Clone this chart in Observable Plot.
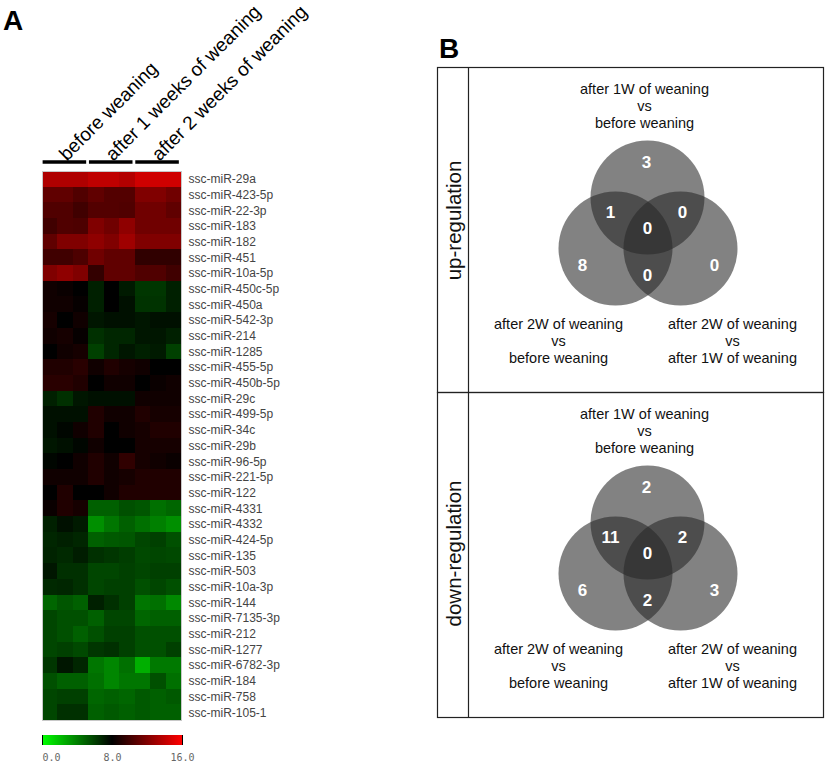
<!DOCTYPE html>
<html>
<head>
<meta charset="utf-8">
<script src="https://cdn.jsdelivr.net/npm/d3@7"></script>
<script src="https://cdn.jsdelivr.net/npm/@observablehq/plot@0.6"></script>
<style>
  html, body { margin: 0; padding: 0; background: #fff; }
  #root { position: relative; width: 827px; height: 768px; overflow: hidden; font-family: "Liberation Sans", Arial, sans-serif; }
  .abs { position: absolute; }
  .letter { font: bold 28px "Liberation Sans", Arial, sans-serif; line-height: 1; color: #000; }
  #legend text { font-family: "DejaVu Sans Mono", monospace; font-size: 10px; fill: #666; }
</style>
</head>
<body>
<div id="root">
  <div class="abs letter" style="left:3px; top:7px;">A</div>
  <div class="abs letter" style="left:439px; top:35px;">B</div>
  <div class="abs" id="heat" style="left:0; top:0;"></div>
  <div class="abs" id="legend" style="left:32px; top:733px;"></div>
  <div class="abs" id="vennUp" style="left:436px; top:66px;"></div>
  <div class="abs" id="vennDown" style="left:436px; top:391px;"></div>
</div>
<script>
// ---------------- Heatmap data ----------------
const groups = ["before weaning", "after 1 weeks of weaning", "after 2 weeks of weaning"];
const samplesPerGroup = 3;
const mirnas = [
  "ssc-miR-29a", "ssc-miR-423-5p", "ssc-miR-22-3p", "ssc-miR-183", "ssc-miR-182",
  "ssc-miR-451", "ssc-miR-10a-5p", "ssc-miR-450c-5p", "ssc-miR-450a", "ssc-miR-542-3p",
  "ssc-miR-214", "ssc-miR-1285", "ssc-miR-455-5p", "ssc-miR-450b-5p", "ssc-miR-29c",
  "ssc-miR-499-5p", "ssc-miR-34c", "ssc-miR-29b", "ssc-miR-96-5p", "ssc-miR-221-5p",
  "ssc-miR-122", "ssc-miR-4331", "ssc-miR-4332", "ssc-miR-424-5p", "ssc-miR-135",
  "ssc-miR-503", "ssc-miR-10a-3p", "ssc-miR-144", "ssc-miR-7135-3p", "ssc-miR-212",
  "ssc-miR-1277", "ssc-miR-6782-3p", "ssc-miR-184", "ssc-miR-758", "ssc-miR-105-1"
];
// log2 expression, 9 samples per miRNA (3 before, 3 after 1W, 3 after 2W)
const expression = [
  [13.5, 13.5, 13.5, 14.0, 14.0, 13.6, 14.5, 14.5, 14.5],
  [11.0, 11.0, 10.5, 11.0, 10.6, 10.6, 12.0, 12.0, 11.5],
  [10.5, 10.5, 10.0, 10.6, 10.6, 10.5, 11.5, 11.5, 11.0],
  [10.0, 10.5, 10.4, 12.0, 11.5, 12.5, 11.5, 11.5, 11.5],
  [11.0, 12.0, 12.0, 12.5, 12.0, 13.0, 12.0, 12.0, 12.0],
  [10.0, 10.0, 10.4, 11.5, 11.0, 11.0, 9.5, 9.5, 9.5],
  [12.0, 12.5, 12.0, 9.6, 11.0, 11.0, 10.5, 10.5, 10.0],
  [8.5, 8.3, 8.0, 7.0, 8.0, 7.2, 6.3, 6.3, 7.0],
  [8.5, 8.5, 8.2, 7.0, 8.0, 7.5, 6.4, 6.4, 7.0],
  [8.7, 8.0, 8.5, 7.3, 7.5, 7.5, 7.3, 7.5, 7.5],
  [8.5, 8.7, 8.2, 6.5, 6.8, 6.8, 7.3, 7.3, 7.0],
  [8.0, 8.5, 8.7, 6.0, 6.8, 7.3, 7.0, 7.2, 6.0],
  [9.0, 9.0, 9.3, 8.5, 9.0, 8.7, 8.5, 8.0, 8.0],
  [9.3, 9.3, 9.0, 8.0, 8.5, 8.5, 8.0, 8.3, 8.5],
  [7.0, 6.5, 7.3, 7.5, 7.5, 7.5, 8.5, 8.5, 8.5],
  [7.5, 7.5, 7.5, 9.0, 8.5, 8.5, 9.0, 8.7, 8.7],
  [7.5, 7.8, 8.5, 9.0, 8.0, 8.5, 8.7, 9.0, 9.0],
  [7.3, 7.5, 7.8, 8.5, 8.0, 8.0, 8.7, 8.7, 8.7],
  [7.8, 8.0, 8.5, 9.0, 8.5, 9.5, 8.7, 8.5, 8.3],
  [8.5, 8.5, 8.5, 9.0, 8.5, 8.7, 9.0, 9.0, 9.0],
  [8.0, 9.0, 8.0, 8.0, 8.5, 9.0, 9.0, 9.0, 9.0],
  [8.3, 9.0, 8.7, 5.0, 5.0, 5.5, 5.3, 4.5, 4.8],
  [7.0, 7.5, 7.2, 3.5, 4.3, 5.0, 4.5, 4.0, 3.5],
  [6.8, 7.0, 6.8, 5.0, 5.2, 5.3, 5.8, 6.0, 5.5],
  [6.9, 6.7, 7.1, 6.5, 6.3, 6.1, 5.7, 5.8, 5.7],
  [7.3, 6.5, 6.5, 5.8, 5.8, 6.0, 5.8, 6.0, 6.0],
  [6.7, 6.8, 6.5, 5.8, 6.0, 6.0, 5.5, 5.8, 5.5],
  [4.8, 5.3, 5.0, 7.0, 6.5, 6.0, 4.3, 4.5, 3.7],
  [5.8, 5.5, 5.5, 5.0, 5.8, 5.8, 4.8, 5.0, 5.0],
  [5.8, 5.5, 5.0, 5.5, 6.0, 6.0, 5.5, 5.5, 5.5],
  [5.8, 6.0, 5.7, 6.3, 6.5, 6.0, 5.5, 5.5, 6.0],
  [6.3, 7.3, 6.8, 4.3, 3.8, 4.5, 2.5, 4.2, 4.2],
  [5.5, 5.0, 5.0, 4.5, 3.8, 4.3, 4.3, 5.5, 4.5],
  [5.8, 6.0, 6.0, 4.8, 5.0, 4.8, 5.2, 5.0, 5.2],
  [5.8, 6.5, 6.5, 5.0, 5.2, 5.0, 5.2, 5.0, 5.0]
];
const legendTicks = [0, 8, 16];

// ---------------- Venn data ----------------
const setLabels = [
  "after 1W of weaning\nvs\nbefore weaning",
  "after 2W of weaning\nvs\nbefore weaning",
  "after 2W of weaning\nvs\nafter 1W of weaning"
];
const regionNames = ["A", "AB", "AC", "ABC", "B", "BC", "C"];
const upCounts = [3, 1, 0, 0, 8, 0, 0];
const downCounts = [2, 11, 2, 0, 6, 2, 3];

// ---------------- Layout (positions in box units) ----------------
const circleLayout = [{x: 210, y: 130}, {x: 178, y: 181}, {x: 243, y: 181}];
const regionLayout = {
  A: [209, 95], AB: [173, 145], AC: [245, 145], ABC: [210, 161],
  B: [145, 198], BC: [210, 208], C: [277, 198]
};
const labelLayout = [[207, 38], [121, 273], [295, 273]];

// ---------------- Heatmap ----------------
const cells = mirnas.flatMap((m, i) => expression[i].map((v, j) => ({row: i, col: j, v})));
const groupData = groups.map((g, k) => ({name: g, start: k * samplesPerGroup}));
const nCols = groups.length * samplesPerGroup;

const colorScale = {type: "linear", domain: [0, 8, 16], range: ["#00ff00", "#000000", "#ff0000"], interpolate: "rgb", label: null};

const heat = Plot.plot({
  width: 300, height: 735,
  marginLeft: 42, marginRight: 119, marginTop: 171, marginBottom: 15,
  style: {fontFamily: "Liberation Sans, Arial, sans-serif", background: "transparent", overflow: "visible"},
  x: {domain: [0, nCols], axis: null},
  y: {domain: [0, mirnas.length], reverse: true, axis: null},
  color: colorScale,
  marks: [
    Plot.rect(cells, {x1: "col", x2: d => d.col + 1, y1: "row", y2: d => d.row + 1, fill: "v", shapeRendering: "crispEdges"}),
    Plot.frame({stroke: "#c8c8c8"}),
    Plot.ruleY(groupData, {y: -0.6, x1: d => d.start + 0.04, x2: d => d.start + samplesPerGroup - 0.14, stroke: "#000", strokeWidth: 3.5}),
    Plot.text(groupData, {x: d => d.start + samplesPerGroup / 2 - 0.2, y: -0.9, text: "name", rotate: -45, textAnchor: "start", fontSize: 19, fill: "#000"}),
    Plot.text(mirnas, {x: nCols, y: (d, i) => i + 0.5, text: d => d, dx: 7, textAnchor: "start", fontSize: 12, fill: "#444"})
  ]
});
document.getElementById("heat").appendChild(heat);

const leg = heat.legend("color", {
  width: 160, height: 34, marginLeft: 10, marginRight: 10, marginTop: 2, marginBottom: 22,
  ticks: legendTicks, tickFormat: d => d.toFixed(1), tickSize: 0, label: null
});
document.getElementById("legend").appendChild(leg);
const legTexts = leg.querySelectorAll("text");
legTexts.forEach(t => t.setAttribute("y", (+t.getAttribute("y") || 0) + 6));
if (legTexts.length) {
  legTexts[0].setAttribute("text-anchor", "start");
  legTexts[legTexts.length - 1].setAttribute("text-anchor", "end");
}

// ---------------- Venn diagrams ----------------
function venn(counts, title, titleY) {
  const regions = regionNames.map((r, i) => ({x: regionLayout[r][0], y: regionLayout[r][1], n: counts[i]}));
  const labels = setLabels.map((t, i) => ({t, x: labelLayout[i][0], y: labelLayout[i][1]}));
  return Plot.plot({
    width: 388, height: 327, margin: 1,
    style: {fontFamily: "Liberation Sans, Arial, sans-serif", background: "transparent", overflow: "visible"},
    x: {domain: [0, 386], axis: null},
    y: {domain: [0, 325], reverse: true, axis: null},
    marks: [
      Plot.frame({stroke: "#222", strokeWidth: 1.2}),
      Plot.ruleX([31], {stroke: "#222", strokeWidth: 1.2}),
      Plot.dot(circleLayout, {x: "x", y: "y", r: 57, fill: "#282828", fillOpacity: 0.58}),
      Plot.text(regions, {x: "x", y: "y", text: d => String(d.n), fill: "#fff", fontWeight: "bold", fontSize: 17}),
      Plot.text(labels, {x: "x", y: "y", text: "t", fontSize: 14.5, lineHeight: 1.17, fill: "#111"}),
      Plot.text([title], {x: 17, y: titleY, text: d => d, rotate: -90, fontSize: 20.5, fill: "#111"})
    ]
  });
}
document.getElementById("vennUp").appendChild(venn(upCounts, "up-regulation", 153));
document.getElementById("vennDown").appendChild(venn(downCounts, "down-regulation", 161));
</script>
</body>
</html>
